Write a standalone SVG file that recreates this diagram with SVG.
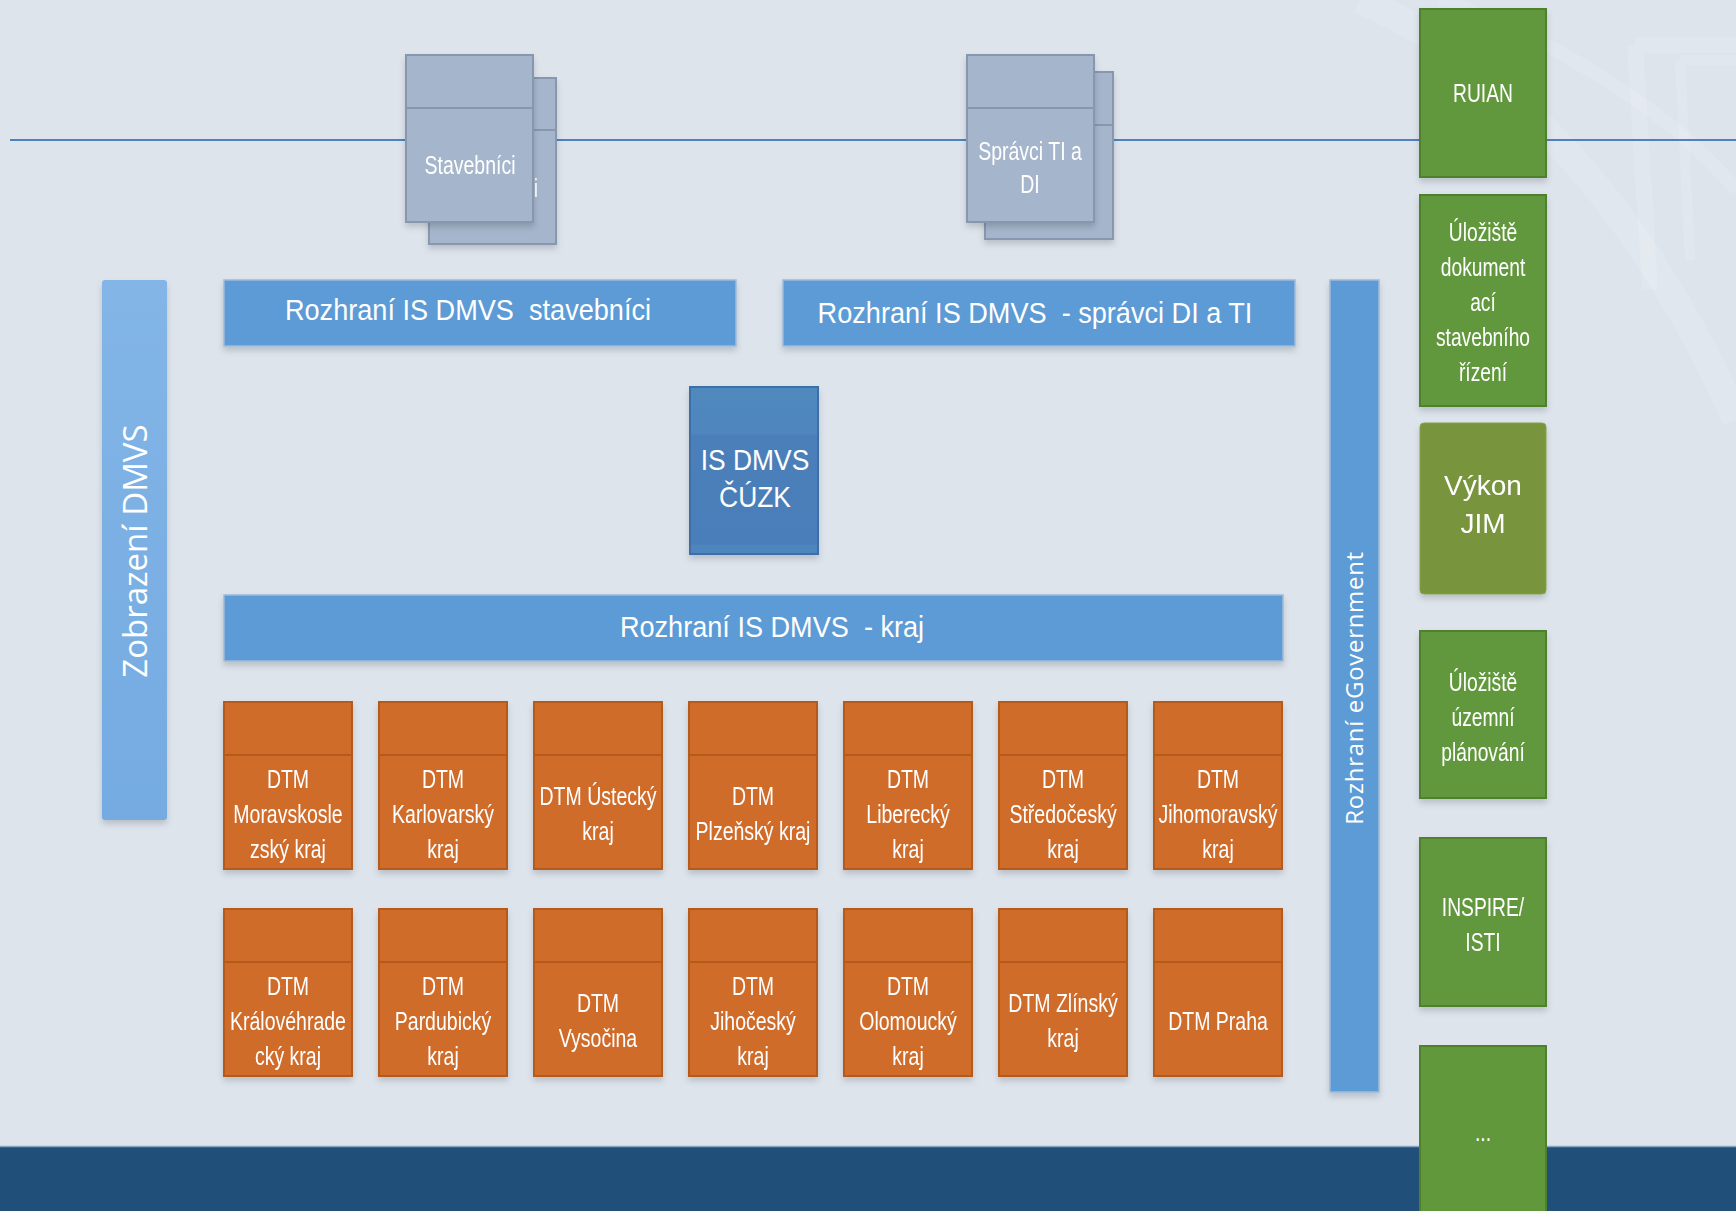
<svg xmlns="http://www.w3.org/2000/svg" width="1736" height="1211" viewBox="0 0 1736 1211">
<style>
  .t { font-family: "Liberation Sans", Arial, sans-serif; fill: #ffffff; text-anchor: middle; }
  .os { font-family: "Open Sans", "Liberation Sans", sans-serif; fill: #ffffff; text-anchor: middle; }
  .dtm rect, .dtm line { stroke: #b65a1f; stroke-width: 2; }
  .dtm rect { fill: #d06c2c; }
  .dtm text { font-family: "Liberation Sans", Arial, sans-serif; fill: #ffffff; text-anchor: middle; font-size: 26px; }
  .gray rect { fill: #a5b5cc; stroke: #8797ad; stroke-width: 2; }
  .gray line { stroke: #8797ad; stroke-width: 2; }
  .gray text { font-family: "Liberation Sans", Arial, sans-serif; fill: #ffffff; text-anchor: middle; font-size: 26px; }
  .green rect { fill: #62983c; stroke: #4f802e; stroke-width: 2; }
  .green text { font-family: "Liberation Sans", Arial, sans-serif; fill: #ffffff; text-anchor: middle; font-size: 25px; }
  .bar { fill: #5b9bd5; stroke: #9fbbdb; stroke-width: 1.5; }
  .bar-text { font-family: "Liberation Sans", Arial, sans-serif; fill: #ffffff; text-anchor: middle; font-size: 29px; }
</style>
<defs>
  <filter id="sh" x="-15%" y="-10%" width="130%" height="130%">
    <feDropShadow dx="0" dy="4" stdDeviation="3" flood-color="#000000" flood-opacity="0.16"/>
  </filter>
  <linearGradient id="zobr" x1="0" y1="0" x2="0" y2="1">
    <stop offset="0" stop-color="#83b5e7"/>
    <stop offset="1" stop-color="#74abe1"/>
  </linearGradient>
  <linearGradient id="isg" x1="0" y1="0" x2="0" y2="1">
    <stop offset="0" stop-color="#5089be"/>
    <stop offset="0.28" stop-color="#4f86bd"/>
    <stop offset="0.29" stop-color="#4b7fba"/>
    <stop offset="0.94" stop-color="#4a7eba"/>
    <stop offset="0.95" stop-color="#4e86bd"/>
    <stop offset="1" stop-color="#4e86bd"/>
  </linearGradient>
</defs>

<!-- background -->
<rect x="0" y="0" width="1736" height="1211" fill="#dde4ec"/>
<g fill="none" stroke="#ffffff" stroke-opacity="0.13">
  <path d="M1360,0 C1500,60 1640,200 1736,420" stroke-width="28"/>
  <path d="M1440,0 C1560,40 1680,120 1736,190" stroke-width="14"/>
  <path d="M1635,45 L1736,45 M1635,45 L1650,290" stroke-width="16"/>
  <path d="M1680,60 L1736,60 M1680,60 L1690,260" stroke-width="10"/>
</g>

<!-- bottom band -->
<rect x="0" y="1146" width="1736" height="65" fill="#204f79"/>
<line x1="0" y1="1146.5" x2="1736" y2="1146.5" stroke="#8aa4c2" stroke-width="1.5"/>

<!-- connectors -->
<g id="connectors">
  <line x1="10" y1="140" x2="1736" y2="140" stroke="#4f81bd" stroke-width="2"/>
</g>

<!-- Stavebníci (stacked) -->
<g id="node-stavebnici" class="gray">
  <g filter="url(#sh)">
    <rect x="429" y="78" width="127" height="166"/>
    <line x1="429" y1="130" x2="556" y2="130"/>
    <text x="536" y="197" transform="translate(536,0) scale(0.75,1) translate(-536,0)">i</text>
  </g>
  <g filter="url(#sh)">
    <rect x="406" y="55" width="127" height="167"/>
    <line x1="406" y1="108" x2="533" y2="108"/>
    <text transform="translate(470,174) scale(0.75,1)">Stavebníci</text>
  </g>
</g>

<!-- Správci TI a DI (stacked) -->
<g id="node-spravci" class="gray">
  <g filter="url(#sh)">
    <rect x="985" y="72" width="128" height="167"/>
    <line x1="985" y1="125" x2="1113" y2="125"/>
  </g>
  <g filter="url(#sh)">
    <rect x="967" y="55" width="127" height="167"/>
    <line x1="967" y1="108" x2="1094" y2="108"/>
    <text transform="translate(1030,160) scale(0.75,1)">Správci TI a</text>
    <text transform="translate(1030,193) scale(0.75,1)">DI</text>
  </g>
</g>

<!-- Zobrazení DMVS -->
<g id="node-zobrazeni">
  <rect x="102" y="280" width="65" height="540" rx="3" fill="url(#zobr)" filter="url(#sh)"/>
  <text class="os" font-size="33" transform="translate(147,551) rotate(-90)">Zobrazení DMVS</text>
</g>

<!-- Rozhraní IS DMVS stavebníci -->
<g id="node-rozhrani-stavebnici">
  <rect class="bar" x="224" y="280" width="512" height="66" filter="url(#sh)"/>
  <text class="bar-text" xml:space="preserve" transform="translate(468,320) scale(0.935,1)">Rozhraní IS DMVS  stavebníci</text>
</g>

<!-- Rozhraní IS DMVS - správci DI a TI -->
<g id="node-rozhrani-spravci">
  <rect class="bar" x="783" y="280" width="512" height="66" filter="url(#sh)"/>
  <text class="bar-text" xml:space="preserve" transform="translate(1035,323) scale(0.935,1)">Rozhraní IS DMVS  - správci DI a TI</text>
</g>

<!-- IS DMVS ČÚZK -->
<g id="node-isdmvs">
  <rect x="690" y="387" width="128" height="167" fill="url(#isg)" stroke="#3d6ea6" stroke-width="2" filter="url(#sh)"/>
  <text class="t" font-size="30" transform="translate(755,470) scale(0.88,1)">IS DMVS</text>
  <text class="t" font-size="30" transform="translate(755,507) scale(0.88,1)">ČÚZK</text>
</g>

<!-- Rozhraní IS DMVS - kraj -->
<g id="node-rozhrani-kraj">
  <rect class="bar" x="224" y="595" width="1059" height="66" filter="url(#sh)"/>
  <text class="bar-text" xml:space="preserve" transform="translate(772,637) scale(0.935,1)">Rozhraní IS DMVS  - kraj</text>
</g>

<!-- Rozhraní eGovernment -->
<g id="node-egov">
  <rect class="bar" x="1330" y="280" width="49" height="812" filter="url(#sh)"/>
  <text class="os" font-size="24" letter-spacing="0.7" transform="translate(1363,688) rotate(-90)">Rozhraní eGovernment</text>
</g>

<!-- DTM row 1 -->
<g id="dtm-moravskoslezsky" class="dtm" filter="url(#sh)">
  <rect x="224" y="702" width="128" height="167"/><line x1="224" y1="755" x2="352" y2="755"/>
  <text transform="translate(288,788) scale(0.75,1)">DTM</text>
  <text transform="translate(288,823) scale(0.75,1)">Moravskosle</text>
  <text transform="translate(288,858) scale(0.75,1)">zský kraj</text>
</g>
<g id="dtm-karlovarsky" class="dtm" filter="url(#sh)">
  <rect x="379" y="702" width="128" height="167"/><line x1="379" y1="755" x2="507" y2="755"/>
  <text transform="translate(443,788) scale(0.75,1)">DTM</text>
  <text transform="translate(443,823) scale(0.75,1)">Karlovarský</text>
  <text transform="translate(443,858) scale(0.75,1)">kraj</text>
</g>
<g id="dtm-ustecky" class="dtm" filter="url(#sh)">
  <rect x="534" y="702" width="128" height="167"/><line x1="534" y1="755" x2="662" y2="755"/>
  <text transform="translate(598,805) scale(0.75,1)">DTM Ústecký</text>
  <text transform="translate(598,840) scale(0.75,1)">kraj</text>
</g>
<g id="dtm-plzensky" class="dtm" filter="url(#sh)">
  <rect x="689" y="702" width="128" height="167"/><line x1="689" y1="755" x2="817" y2="755"/>
  <text transform="translate(753,805) scale(0.75,1)">DTM</text>
  <text transform="translate(753,840) scale(0.75,1)">Plzeňský kraj</text>
</g>
<g id="dtm-liberecky" class="dtm" filter="url(#sh)">
  <rect x="844" y="702" width="128" height="167"/><line x1="844" y1="755" x2="972" y2="755"/>
  <text transform="translate(908,788) scale(0.75,1)">DTM</text>
  <text transform="translate(908,823) scale(0.75,1)">Liberecký</text>
  <text transform="translate(908,858) scale(0.75,1)">kraj</text>
</g>
<g id="dtm-stredocesky" class="dtm" filter="url(#sh)">
  <rect x="999" y="702" width="128" height="167"/><line x1="999" y1="755" x2="1127" y2="755"/>
  <text transform="translate(1063,788) scale(0.75,1)">DTM</text>
  <text transform="translate(1063,823) scale(0.75,1)">Středočeský</text>
  <text transform="translate(1063,858) scale(0.75,1)">kraj</text>
</g>
<g id="dtm-jihomoravsky" class="dtm" filter="url(#sh)">
  <rect x="1154" y="702" width="128" height="167"/><line x1="1154" y1="755" x2="1282" y2="755"/>
  <text transform="translate(1218,788) scale(0.75,1)">DTM</text>
  <text transform="translate(1218,823) scale(0.75,1)">Jihomoravský</text>
  <text transform="translate(1218,858) scale(0.75,1)">kraj</text>
</g>

<!-- DTM row 2 -->
<g id="dtm-kralovehradecky" class="dtm" filter="url(#sh)">
  <rect x="224" y="909" width="128" height="167"/><line x1="224" y1="962" x2="352" y2="962"/>
  <text transform="translate(288,995) scale(0.75,1)">DTM</text>
  <text transform="translate(288,1030) scale(0.75,1)">Královéhrade</text>
  <text transform="translate(288,1065) scale(0.75,1)">cký kraj</text>
</g>
<g id="dtm-pardubicky" class="dtm" filter="url(#sh)">
  <rect x="379" y="909" width="128" height="167"/><line x1="379" y1="962" x2="507" y2="962"/>
  <text transform="translate(443,995) scale(0.75,1)">DTM</text>
  <text transform="translate(443,1030) scale(0.75,1)">Pardubický</text>
  <text transform="translate(443,1065) scale(0.75,1)">kraj</text>
</g>
<g id="dtm-vysocina" class="dtm" filter="url(#sh)">
  <rect x="534" y="909" width="128" height="167"/><line x1="534" y1="962" x2="662" y2="962"/>
  <text transform="translate(598,1012) scale(0.75,1)">DTM</text>
  <text transform="translate(598,1047) scale(0.75,1)">Vysočina</text>
</g>
<g id="dtm-jihocesky" class="dtm" filter="url(#sh)">
  <rect x="689" y="909" width="128" height="167"/><line x1="689" y1="962" x2="817" y2="962"/>
  <text transform="translate(753,995) scale(0.75,1)">DTM</text>
  <text transform="translate(753,1030) scale(0.75,1)">Jihočeský</text>
  <text transform="translate(753,1065) scale(0.75,1)">kraj</text>
</g>
<g id="dtm-olomoucky" class="dtm" filter="url(#sh)">
  <rect x="844" y="909" width="128" height="167"/><line x1="844" y1="962" x2="972" y2="962"/>
  <text transform="translate(908,995) scale(0.75,1)">DTM</text>
  <text transform="translate(908,1030) scale(0.75,1)">Olomoucký</text>
  <text transform="translate(908,1065) scale(0.75,1)">kraj</text>
</g>
<g id="dtm-zlinsky" class="dtm" filter="url(#sh)">
  <rect x="999" y="909" width="128" height="167"/><line x1="999" y1="962" x2="1127" y2="962"/>
  <text transform="translate(1063,1012) scale(0.75,1)">DTM Zlínský</text>
  <text transform="translate(1063,1047) scale(0.75,1)">kraj</text>
</g>
<g id="dtm-praha" class="dtm" filter="url(#sh)">
  <rect x="1154" y="909" width="128" height="167"/><line x1="1154" y1="962" x2="1282" y2="962"/>
  <text transform="translate(1218,1030) scale(0.75,1)">DTM Praha</text>
</g>

<!-- right column -->
<g id="node-ruian" class="green" filter="url(#sh)">
  <rect x="1420" y="9" width="126" height="168"/>
  <text transform="translate(1483,102) scale(0.77,1)">RUIAN</text>
</g>
<g id="node-uloziste-dok" class="green" filter="url(#sh)">
  <rect x="1420" y="195" width="126" height="211"/>
  <text transform="translate(1483,241) scale(0.77,1)">Úložiště</text>
  <text transform="translate(1483,276) scale(0.77,1)">dokument</text>
  <text transform="translate(1483,311) scale(0.77,1)">ací</text>
  <text transform="translate(1483,346) scale(0.77,1)">stavebního</text>
  <text transform="translate(1483,381) scale(0.77,1)">řízení</text>
</g>
<g id="node-vykon-jim" filter="url(#sh)">
  <rect x="1420" y="423" width="126" height="171" rx="4" fill="#78943c" stroke="#86a24a" stroke-width="1"/>
  <text class="t" font-size="28" x="1483" y="495">Výkon</text>
  <text class="t" font-size="28" x="1483" y="533">JIM</text>
</g>
<g id="node-uloziste-up" class="green" filter="url(#sh)">
  <rect x="1420" y="631" width="126" height="167"/>
  <text transform="translate(1483,691) scale(0.77,1)">Úložiště</text>
  <text transform="translate(1483,726) scale(0.77,1)">územní</text>
  <text transform="translate(1483,761) scale(0.77,1)">plánování</text>
</g>
<g id="node-inspire" class="green" filter="url(#sh)">
  <rect x="1420" y="838" width="126" height="168"/>
  <text transform="translate(1483,916) scale(0.77,1)">INSPIRE/</text>
  <text transform="translate(1483,951) scale(0.77,1)">ISTI</text>
</g>
<g id="node-dalsi" class="green">
  <rect x="1420" y="1046" width="126" height="175"/>
  <text transform="translate(1483,1141) scale(0.77,1)">...</text>
</g>
</svg>
